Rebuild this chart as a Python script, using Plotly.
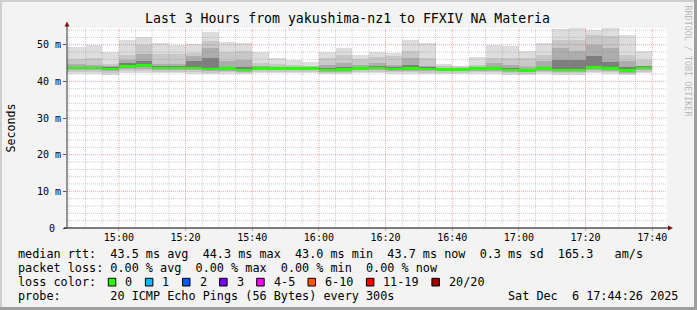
import numpy as np
import pandas as pd
import plotly.graph_objects as go

# ---------------- data (ms) ----------------
# 5-minute bins, first bin (14:40) only partly visible at the left edge
bin_start = pd.date_range("2025-12-06 14:40", periods=36, freq="5min")

rtt_max = [49.4, 49.4, 50.0, 48.0, 51.2, 52.0, 50.6, 50.0, 50.2, 53.6, 50.8, 50.4, 48.0, 46.4, 45.7, 45.3, 47.9, 49.2,
           47.3, 47.9, 47.7, 51.4, 50.6, 44.8, 44.3, 46.7, 50.0, 49.6, 48.4, 50.5, 54.3, 54.6, 54.0, 54.6, 52.7, 48.4]
rtt_u1 = [46.2, 46.2, 46.4, 44.8, 47.3, 50.0, 47.5, 47.6, 47.7, 51.0, 48.0, 48.3, 45.0, 44.7, 44.6, 44.3, 46.4, 47.3,
          46.1, 46.6, 46.8, 48.2, 46.4, 44.1, 43.9, 44.6, 46.4, 46.4, 46.4, 47.3, 51.4, 51.4, 52.7, 52.5, 47.3, 45.7]
rtt_u2 = [44.8, 44.8, 44.6, 44.1, 45.9, 47.5, 44.8, 44.8, 46.8, 49.1, 45.5, 45.9, 44.2, 44.0, 44.0, 43.9, 44.4, 45.0,
          44.6, 45.0, 44.6, 46.4, 44.3, 43.7, 43.6, 44.0, 45.0, 44.5, 44.0, 45.5, 49.1, 48.2, 50.0, 49.1, 45.5, 44.3]
rtt_u3 = [44.0, 44.0, 43.9, 43.7, 45.0, 45.6, 44.1, 44.0, 45.5, 46.4, 43.9, 43.9, 43.8, 43.8, 43.7, 43.7, 43.6, 44.0,
          43.8, 44.1, 43.8, 44.6, 43.9, 43.5, 43.4, 43.8, 44.0, 43.7, 43.4, 44.0, 45.9, 45.9, 46.8, 45.4, 44.0, 44.0]
median = [43.6, 43.6, 43.6, 43.4, 44.1, 44.3, 43.7, 43.7, 43.7, 43.3, 43.5, 43.1, 43.5, 43.5, 43.5, 43.5, 43.1, 43.2,
          43.5, 43.6, 43.4, 43.5, 43.4, 43.2, 43.2, 43.5, 43.5, 43.1, 43.0, 43.5, 43.1, 43.1, 43.8, 43.5, 43.0, 43.7]
rtt_l1 = [43.0, 43.0, 43.0, 42.9, 43.3, 43.5, 43.1, 43.1, 43.0, 42.8, 42.9, 42.6, 43.0, 43.0, 43.0, 43.0, 42.6, 42.6,
          43.0, 43.0, 42.9, 42.9, 42.8, 42.7, 42.7, 42.9, 42.9, 42.6, 42.5, 42.9, 42.6, 42.6, 43.0, 42.9, 42.4, 43.0]
rtt_l2 = [42.5, 42.5, 42.5, 42.3, 42.7, 42.8, 42.6, 42.6, 42.5, 42.4, 42.5, 42.2, 42.6, 42.6, 42.6, 42.6, 42.2, 42.2,
          42.6, 42.6, 42.5, 42.5, 42.4, 42.3, 42.3, 42.5, 42.5, 42.2, 42.1, 42.5, 42.2, 42.2, 42.6, 42.5, 42.1, 42.6]
rtt_min = [42.1, 42.1, 42.1, 41.8, 42.3, 42.3, 42.2, 42.2, 42.1, 42.0, 42.1, 41.9, 42.2, 42.2, 42.2, 42.2, 41.9, 41.9,
           42.2, 42.2, 42.1, 42.1, 42.0, 41.9, 41.9, 42.1, 42.1, 41.8, 41.8, 42.1, 41.8, 41.8, 42.2, 42.1, 41.7, 42.2]

y_tick_vals = [0, 10, 20, 30, 40, 50]
y_tick_text = ["0\u00a0", "10 m", "20 m", "30 m", "40 m", "50 m"]

title_text = "Last 3 Hours from yakushima-nz1 to FFXIV NA Materia"
legend_rows = [
    "median rtt:  43.5 ms avg  44.3 ms max  43.0 ms min  43.7 ms now  0.3 ms sd  165.3   am/s",
    "packet loss: 0.00 % avg  0.00 % max  0.00 % min  0.00 % now",
    "loss color:",
    "probe:       20 ICMP Echo Pings (56 Bytes) every 300s",
]
loss_labels = ["0", "1", "2", "3", "4-5", "6-10", "11-19", "20/20"]
loss_colors = ["#26ff00", "#00b8ff", "#0059ff", "#7e00ff", "#ff00ff", "#ff5500", "#ff0000", "#a10000"]
date_text = "Sat Dec  6 17:44:26 2025"
x_start = "2025-12-06 14:44:26"
x_end = "2025-12-06 17:44:26"

# ---------------- figure ----------------
FONT = "DejaVu Sans Mono"
W, H = 697, 310
L, R, T, B = 67, 30, 28, 82
PW, PH = W - L - R, H - T - B


def px(x):
    return (x - L) / PW


def py(y):
    return (H - B - y) / PH


def nb(s):
    return s.replace(" ", "\u00a0")


centers = bin_start + pd.Timedelta(seconds=150)
bw = 5 * 60 * 1000

fig = go.Figure()
a = lambda v: np.array(v, dtype=float)
bands = [
    (a(rtt_min), a(rtt_max), "#dddddd"),
    (a(rtt_l2), a(rtt_u1), "#c8c8c8"),
    (a(rtt_l1), a(rtt_u2), "#adadad"),
    (a(median), a(rtt_u3), "#7e7e7e"),
]
for lo, hi, col in bands:
    fig.add_trace(go.Bar(x=centers, y=hi - lo, base=lo, width=bw, marker=dict(color=col, line=dict(width=0)),
                         showlegend=False, hoverinfo="skip"))
med = a(median)
fig.add_trace(go.Bar(x=centers, y=np.full(len(med), 0.65), base=med - 0.325, width=bw,
                     marker=dict(color=loss_colors[0], line=dict(width=0)), showlegend=False))

shapes = []
# grid (drawn over the data like rrdtool)
t = pd.Timestamp("2025-12-06 14:45")
while t <= pd.Timestamp("2025-12-06 17:40"):
    major = t.minute % 20 == 0
    shapes.append(dict(type="line", xref="x", yref="paper", x0=t, x1=t, y0=0, y1=1, layer="above",
                       line=dict(color="rgba(222,80,80,0.5)" if major else "rgba(143,143,143,0.45)",
                                 width=1, dash="1px,1px")))
    t += pd.Timedelta(minutes=5)
for v in range(2, 55, 2):
    major = v % 10 == 0
    shapes.append(dict(type="line", xref="paper", yref="y", x0=0, x1=1, y0=v, y1=v, layer="above",
                       line=dict(color="rgba(222,80,80,0.5)" if major else "rgba(143,143,143,0.45)",
                                 width=1, dash="1px,1px")))
# axes + arrows
shapes.append(dict(type="line", xref="paper", yref="paper", x0=0, x1=0, y0=0, y1=py(25), layer="above",
                   line=dict(color="#333333", width=1)))
shapes.append(dict(type="line", xref="paper", yref="paper", x0=px(64), x1=px(669), y0=0, y1=0, layer="above",
                   line=dict(color="#000000", width=1)))
shapes.append(dict(type="path", xref="paper", yref="paper", layer="above",
                   path=f"M {px(64.5)} {py(26.5)} L {px(69.5)} {py(26.5)} L {px(67)} {py(21.5)} Z",
                   fillcolor="#7f1010", line=dict(width=0)))
shapes.append(dict(type="path", xref="paper", yref="paper", layer="above",
                   path=f"M {px(668)} {py(225.5)} L {px(668)} {py(230.5)} L {px(673)} {py(228)} Z",
                   fillcolor="#7f1010", line=dict(width=0)))
# frame shading
shapes.append(dict(type="rect", xref="paper", yref="paper", x0=px(0), x1=px(2), y0=py(H), y1=py(0),
                   fillcolor="#cfcfcf", line=dict(width=0)))
shapes.append(dict(type="rect", xref="paper", yref="paper", x0=px(0), x1=px(W), y0=py(2), y1=py(0),
                   fillcolor="#cfcfcf", line=dict(width=0)))
shapes.append(dict(type="rect", xref="paper", yref="paper", x0=px(W - 3), x1=px(W), y0=py(H), y1=py(0),
                   fillcolor="#9e9e9e", line=dict(width=0)))
shapes.append(dict(type="rect", xref="paper", yref="paper", x0=px(0), x1=px(W), y0=py(H), y1=py(H - 3),
                   fillcolor="#9e9e9e", line=dict(width=0)))

annotations = []
annotations.append(dict(text=title_text, xref="paper", yref="paper", x=px(347.5), y=py(18.5), showarrow=False,
                        xanchor="center", yanchor="middle", font=dict(family=FONT, size=13.2, color="#000")))
annotations.append(dict(text="Seconds", xref="paper", yref="paper", x=px(10.5), y=0.5, showarrow=False,
                        textangle=-90, xanchor="center", yanchor="middle", font=dict(family=FONT, size=11.6, color="#000")))
annotations.append(dict(text="RRDTOOL / TOBI OETIKER", xref="paper", yref="paper", x=px(687.5), y=py(61),
                        showarrow=False, textangle=90, xanchor="center", yanchor="middle",
                        font=dict(family=FONT, size=8.4, color="#b8b8b8")))
row_y = [254, 268.3, 282.3, 296]
for txt, yy in zip(legend_rows, row_y):
    annotations.append(dict(text=nb(txt), xref="paper", yref="paper", x=px(16), y=py(yy), showarrow=False,
                            xanchor="left", yanchor="middle", font=dict(family=FONT, size=11.8, color="#000")))
annotations.append(dict(text=nb(date_text), xref="paper", yref="paper", x=px(680), y=py(296), showarrow=False,
                        xanchor="right", yanchor="middle", font=dict(family=FONT, size=11.8, color="#000")))
cw = 7.1
bx = 108.3
for lab, col in zip(loss_labels, loss_colors):
    shapes.append(dict(type="rect", xref="paper", yref="paper", x0=px(bx), x1=px(bx + 7.5), y0=py(286),
                       y1=py(278.3), fillcolor=col, line=dict(color="#000", width=1)))
    annotations.append(dict(text=lab, xref="paper", yref="paper", x=px(bx + 15), y=py(282.3), showarrow=False,
                            xanchor="left", yanchor="middle", font=dict(family=FONT, size=11.8, color="#000")))
    bx += 15 + len(lab) * cw + 15

fig.update_layout(
    width=W, height=H, margin=dict(l=L, r=R, t=T, b=B, pad=0),
    paper_bgcolor="#f3f3f3", plot_bgcolor="#ffffff",
    barmode="overlay", bargap=0, showlegend=False,
    shapes=shapes, annotations=annotations,
    xaxis=dict(type="date", range=[x_start, x_end], showgrid=False, zeroline=False, showline=False,
               tick0="2025-12-06 15:00", dtick=20 * 60 * 1000, tickformat="%H:%M",
               ticks="outside", ticklen=2, tickcolor="rgba(222,80,80,0.6)", ticklabelstandoff=-2,
               tickfont=dict(family=FONT, size=10, color="#000")),
    yaxis=dict(range=[0, 54.56], showgrid=False, zeroline=False, showline=False,
               tickvals=y_tick_vals, ticktext=y_tick_text, ticks="outside", ticklen=3, tickcolor="#555",
               tickfont=dict(family=FONT, size=10, color="#000")),
)

fig.write_html("out.html")
